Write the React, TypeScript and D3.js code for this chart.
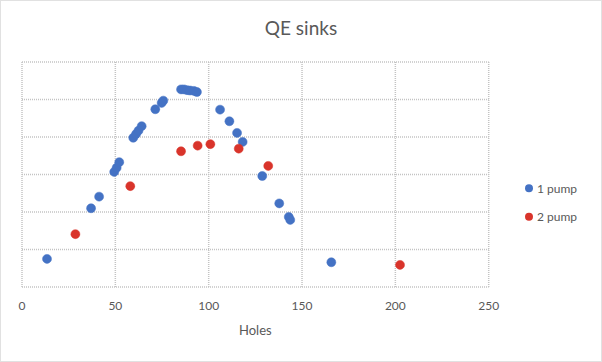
import React from "react";
import * as d3 from "d3";

const pump1X = [13.4, 37.0, 41.3, 49.4, 50.7, 52.1, 59.6, 61.1, 62.4, 64.1, 71.4, 74.8, 75.7, 85.2, 86.8, 88.4, 90.0, 92.1, 93.7, 106.1, 111.1, 115.2, 118.2, 128.7, 137.8, 142.9, 143.7, 165.7];
const pump1Y = [7.5, 21.0, 24.1, 30.7, 31.8, 33.3, 39.8, 40.8, 41.7, 42.9, 47.4, 49.1, 49.7, 52.7, 52.7, 52.5, 52.4, 52.3, 52.0, 47.3, 44.2, 41.1, 38.7, 29.6, 22.3, 18.7, 17.9, 6.6];
const pump2X = [28.6, 58.0, 85.2, 94.1, 100.9, 116.1, 131.9, 202.5];
const pump2Y = [14.1, 26.9, 36.2, 37.7, 38.1, 36.9, 32.3, 5.9];
const xTicks = [0, 50, 100, 150, 200, 250];
const yTicks = [0, 10, 20, 30, 40, 50, 60];
const seriesNames = ["1 pump", "2 pump"];
const seriesColors = ["#4472c4", "#d9342b"];

const W = 602, H = 362;
const left = 22, right = 488.7, top = 62, bottom = 287;

export default function App() {
  const x = d3.scaleLinear().domain([0, 250]).range([left, right]);
  const y = d3.scaleLinear().domain([0, 60]).range([bottom, top]);
  const series = [
    { name: seriesNames[0], color: seriesColors[0], pts: pump1X.map((v, i) => [v, pump1Y[i]]) },
    { name: seriesNames[1], color: seriesColors[1], pts: pump2X.map((v, i) => [v, pump2Y[i]]) },
  ];
  const font = "Lato, 'Open Sans', sans-serif";
  const grid = "#c3c3c3";
  return (
    <svg width={W} height={H} style={{ position: "absolute", left: 0, top: 0 }} fontFamily={font}>
      <rect x={0} y={0} width={W} height={H} fill="#fff" />
      <rect x={0.5} y={0.5} width={W - 1} height={H - 1} fill="none" stroke={grid} strokeDasharray="1,1" />
      <text x={W / 2} y={35} textAnchor="middle" fontSize={19} fill="#595959">QE sinks</text>
      {yTicks.map((t) => (
        <line key={"y" + t} x1={left} x2={right} y1={y(t)} y2={y(t)} stroke={grid} strokeDasharray="1,1" strokeWidth={1.5} />
      ))}
      {xTicks.map((t) => (
        <line key={"x" + t} x1={x(t)} x2={x(t)} y1={top} y2={bottom} stroke={grid} strokeDasharray="1,1" strokeWidth={1.5} />
      ))}
      {xTicks.map((t) => (
        <text key={"xl" + t} x={x(t)} y={310} textAnchor="middle" fontSize={12} fill="#595959">{t}</text>
      ))}
      <text x={(left + right) / 2} y={335} textAnchor="middle" fontSize={13} fill="#595959">Holes</text>
      {series.map((s) =>
        s.pts.map((p, i) => (
          <circle key={s.name + i} cx={x(p[0])} cy={y(p[1])} r={4.5} fill={s.color} stroke={s.color} strokeWidth={0.5} />
        ))
      )}
      {series.map((s, i) => (
        <g key={"lg" + i} transform={`translate(529, ${188.3 + i * 28.4})`}>
          <circle r={4} fill={s.color} />
          <text x={8} y={4.5} fontSize={12} fill="#595959">{s.name}</text>
        </g>
      ))}
    </svg>
  );
}
